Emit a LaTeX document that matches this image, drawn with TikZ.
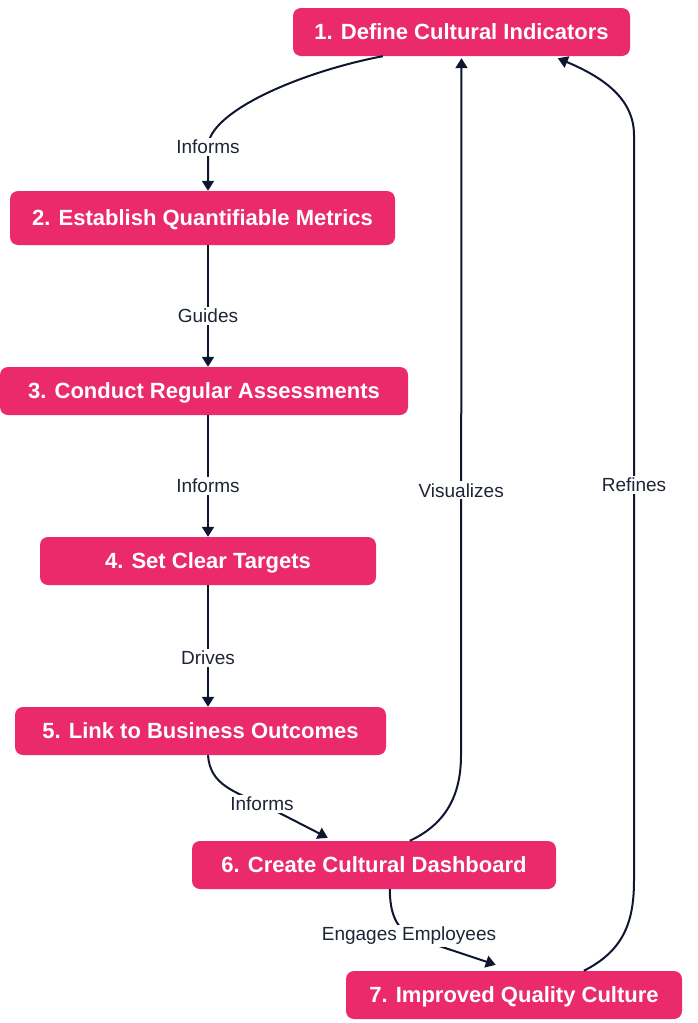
\documentclass[tikz,border=0pt]{standalone}
\usepackage{fontspec}
\setmainfont{Liberation Sans}
\usetikzlibrary{arrows.meta,calc}
\definecolor{boxpink}{HTML}{EA2A6B}
\definecolor{ink}{HTML}{0E1630}
\definecolor{labink}{HTML}{1E2535}
\begin{document}
\begin{tikzpicture}[x=1pt,y=-1pt,
  stepbox/.style={fill=boxpink, rounded corners=8pt, inner sep=0pt, text=white,
    font=\fontsize{22}{25}\selectfont\bfseries, anchor=center, text depth=1pt},
  edge/.style={draw=ink, line width=2pt, -{Triangle[length=10pt,width=12pt]}},
  lbl/.style={fill=white, text=labink, inner sep=2pt, font=\fontsize{19}{22}\selectfont}]
\useasboundingbox (0,0) rectangle (697,1023);
\node[stepbox, minimum width=337pt, minimum height=48pt] (n1) at (461.5,32) {1. Define Cultural Indicators};
\node[stepbox, minimum width=385pt, minimum height=54pt] (n2) at (202.5,218) {2. Establish Quantifiable Metrics};
\node[stepbox, minimum width=408pt, minimum height=48pt] (n3) at (204,391) {3. Conduct Regular Assessments};
\node[stepbox, minimum width=336pt, minimum height=48pt] (n4) at (208,561) {4. Set Clear Targets};
\node[stepbox, minimum width=371pt, minimum height=48pt] (n5) at (200.5,731) {5. Link to Business Outcomes};
\node[stepbox, minimum width=364pt, minimum height=48pt] (n6) at (374,865) {6. Create Cultural Dashboard};
\node[stepbox, minimum width=336pt, minimum height=48pt] (n7) at (514,995) {7. Improved Quality Culture};

% 1 -> 2
\draw[edge] ($(n1.south west)+(90,0)$) .. controls (300,72) and (208,112) .. (208,147)
  node[lbl] {Informs} -- ($(n2.north)+(5.5,0)$);
% 2 -> 3
\draw[edge] ($(n2.south)+(5.5,0)$) -- node[lbl, pos=0.58] {Guides} ($(n3.north)+(4,0)$);
% 3 -> 4
\draw[edge] ($(n3.south)+(4,0)$) -- node[lbl, pos=0.58] {Informs} (n4.north);
% 4 -> 5
\draw[edge] (n4.south) -- node[lbl, pos=0.6] {Drives} ($(n5.north)+(7.5,0)$);
% 5 -> 6
\draw[edge] ($(n5.south)+(7.5,0)$) .. controls (210,785) and (235,792) .. (262,804)
  node[lbl] {Informs} -- ($(n6.north west)+(136,-3)$);
% 6 -> 7
\draw[edge] ($(n6.south west)+(198,0)$) .. controls (390,912) and (395,925) .. (409,936)
  node[lbl] {Engages Employees} -- ($(n7.north west)+(150,-6)$);
% 6 -> 1
\draw[edge] ($(n6.north west)+(218,0)$) .. controls (450,822) and (461,790) .. (461,755)
  -- node[lbl, pos=0.38] {Visualizes} ($(n1.south)+(0,2)$);
% 7 -> 1
\draw[edge] ($(n7.north west)+(238,0)$) .. controls (625,950) and (634,920) .. (634,880)
  -- node[lbl, pos=0.53] {Refines} (634,135) .. controls (634,97) and (600,76) .. ($(n1.south west)+(265,2)$);
\end{tikzpicture}
\end{document}
